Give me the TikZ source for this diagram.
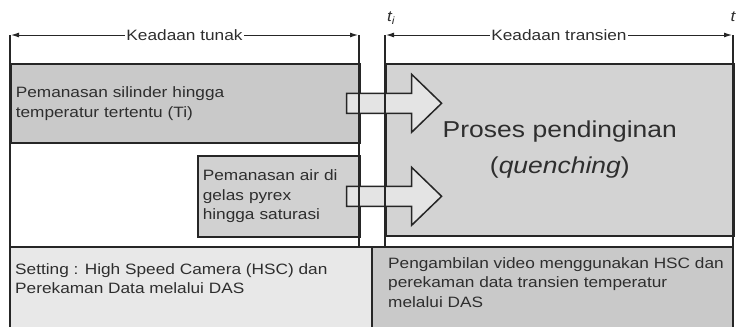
\documentclass[tikz,border=0pt]{standalone}
\usepackage{fontspec}
\setmainfont{Liberation Sans}[FakeStretch=1.15]
\usepackage{tikz}
\usetikzlibrary{positioning, calc, arrows.meta}
\definecolor{box-gray}{HTML}{C9C9C9}
\definecolor{main-gray}{HTML}{D3D3D3}
\definecolor{light-gray}{HTML}{E8E8E8}
\definecolor{arrow-gray}{HTML}{E4E4E4}
\definecolor{text-gray}{HTML}{2E2E2E}
\newcommand{\boxtxt}{\fontsize{15}{19.8}\selectfont}
\newcommand{\maintxt}{\fontsize{23}{36}\selectfont}

\begin{document}
\begin{tikzpicture}[x=1pt, y=-1pt,
    frame/.style={draw=black!85, line width=1.5pt},
    box/.style={draw=black!85, line width=1.6pt, anchor=north west, inner sep=5pt,
        align=left, text=text-gray, font=\boxtxt},
    txt/.style={anchor=north west, inner sep=0pt, align=left, text=text-gray, font=\boxtxt},
    span/.style={{Latex[length=8pt,width=5pt]}-{Latex[length=8pt,width=5pt]}, line width=1pt, draw=black!85},
    spanlabel/.style={fill=white, inner sep=1pt, text=text-gray, font=\boxtxt},
    blockarrow/.style={draw=black!85, line width=1.5pt, fill=arrow-gray, line join=miter}]
    \useasboundingbox (0,0) rectangle (738,327);

    % Time spans
    \coordinate (t0) at (11,35);
    \coordinate (ts) at (358,35);
    \coordinate (ti) at (386,35);
    \coordinate (te) at (732,35);
    \draw[span] (t0) -- (ts) node[spanlabel, midway] (tunak) {Keadaan tunak};
    \draw[span] (ti) -- (te) node[spanlabel, midway] (transien) {Keadaan transien};
    \node[text=text-gray, font=\boxtxt\itshape, inner sep=0pt] (tilabel) at (391,18) {t\textsubscript{i}};
    \node[text=text-gray, font=\boxtxt\itshape, inner sep=0pt] (tlabel) at (733,17) {t};

    % Steady state boxes
    \node[box, fill=box-gray, text width=339pt, minimum height=79pt] (silinder) at (10,63)
        {Pemanasan silinder hingga\\temperatur tertentu (Ti)};
    \node[box, fill=box-gray!85, text width=152pt, minimum height=81pt] (air) at (197,155)
        {Pemanasan air di\\gelas pyrex\\hingga saturasi};

    % Transient box
    \node[box, fill=main-gray, text width=338pt, minimum height=172pt, align=center,
        font=\maintxt] (quench) at (385,63) {Proses pendinginan\\(\textit{quenching})};

    % Bottom row
    \fill[light-gray] (10,247) rectangle (372,327);
    \fill[box-gray] (372,247) rectangle (733,327);
    \node[txt] (setting) at (15,263)
        {Setting : High Speed Camera (HSC) dan\\Perekaman Data melalui DAS};
    \node[txt] (rekam) at (388,257)
        {Pengambilan video menggunakan HSC dan\\perekaman data transien temperatur\\melalui DAS};

    % Block arrows
    \foreach \src in {silinder, air} {
        \draw[blockarrow] ($(\src.east)+(-14,-10)$) -- ++(65,0) -- ++(0,-19) -- ++(30,29)
            -- ++(-30,29) -- ++(0,-19) -- ++(-65,0) -- cycle;
    }

    % Frame lines
    \draw[frame] (10,247) -- (733,247);
    \draw[frame] (372,247) -- (372,327);
    \draw[frame] (10,35) -- (10,327);
    \draw[frame] (733,35) -- (733,327);
    \draw[frame] (359,35) -- (359,247);
    \draw[frame] (385,35) -- (385,247);
\end{tikzpicture}
\end{document}
